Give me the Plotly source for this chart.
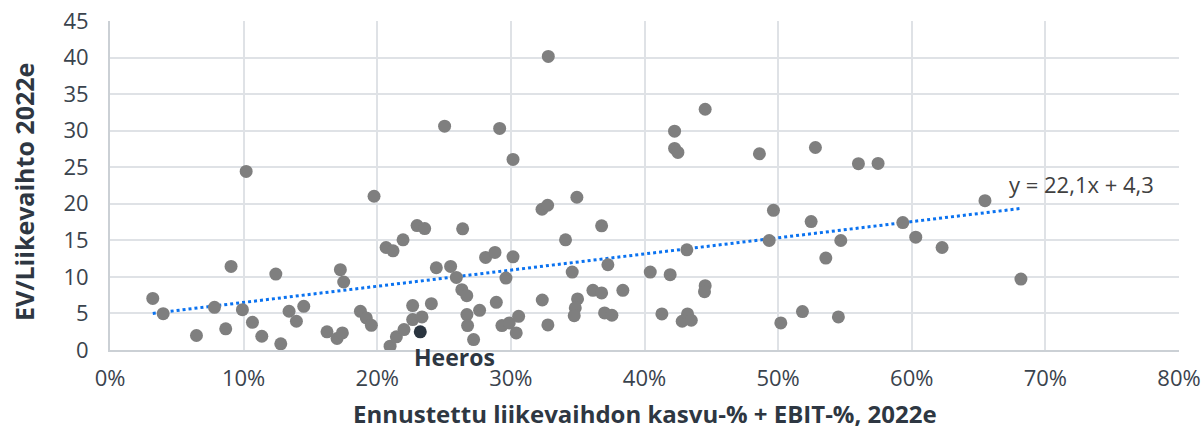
import plotly.graph_objects as go

# Peer companies: forecast revenue growth % + EBIT % (2022e) vs EV/Sales 2022e
growth_ebit = [
    3.2, 3.98, 6.47, 8.66, 7.82, 9.06, 10.19, 9.91, 10.66, 11.36,
    12.41, 12.78, 13.4, 13.95, 14.5, 16.24, 16.99, 17.39, 17.24, 17.49,
    18.74, 19.18, 19.56, 19.76, 20.96, 21.43, 22.0, 22.65, 22.65, 23.35,
    20.66, 21.18, 21.93, 22.98, 23.55, 24.42, 25.49, 25.92, 26.33, 26.7,
    26.39, 24.05, 25.04, 26.71, 26.76, 27.21, 27.66, 28.11, 28.81, 28.91,
    29.16, 29.63, 29.33, 29.88, 30.58, 30.4, 30.16, 30.16, 32.33, 32.75,
    32.35, 32.77, 32.8, 34.09, 34.59, 34.94, 34.99, 34.82, 34.74, 36.14,
    36.79, 36.79, 37.26, 37.01, 37.56, 38.38, 40.43, 41.92, 41.3, 42.25,
    42.25, 42.5, 43.17, 42.82, 43.22, 43.5, 44.54, 44.54, 44.49, 48.6,
    49.65, 49.33, 50.2, 51.82, 52.47, 52.79, 53.57, 54.69, 54.51, 56.01,
    57.48, 59.33, 60.3, 62.27, 65.48, 68.17,
]
ev_sales = [
    7.06, 4.97, 1.98, 2.89, 5.84, 11.43, 24.43, 5.52, 3.79, 1.88,
    10.39, 0.85, 5.3, 3.93, 5.98, 2.48, 1.57, 2.34, 10.98, 9.3,
    5.29, 4.39, 3.38, 21.03, 0.52, 1.8, 2.8, 6.07, 4.16, 4.53,
    14.02, 13.57, 15.07, 17.02, 16.61, 11.25, 11.43, 9.93, 8.25, 7.43,
    16.57, 6.34, 30.61, 4.84, 3.34, 1.43, 5.43, 12.66, 13.34, 6.52,
    30.3, 9.84, 3.34, 3.7, 4.61, 2.34, 26.07, 12.75, 19.25, 19.8,
    6.84, 3.43, 40.16, 15.07, 10.66, 20.89, 6.98, 5.75, 4.7, 8.16,
    7.8, 16.98, 11.66, 5.07, 4.75, 8.16, 10.66, 10.3, 4.93, 29.93,
    27.57, 27.02, 13.7, 3.93, 4.93, 4.07, 32.93, 8.8, 7.98, 26.84,
    19.11, 14.98, 3.7, 5.25, 17.57, 27.7, 12.57, 14.98, 4.53, 25.48,
    25.52, 17.43, 15.43, 14.02, 20.43, 9.7,
]
heeros_name = "Heeros"
heeros_x = [23.22]
heeros_y = [2.48]

trend_slope = 22.1
trend_intercept = 4.3
trend_label = "y = 22,1x + 4,3"

x_ticks = [0, 0.1, 0.2, 0.3, 0.4, 0.5, 0.6, 0.7, 0.8]
y_ticks = [0, 5, 10, 15, 20, 25, 30, 35, 40, 45]
x_title = "Ennustettu liikevaihdon kasvu-% + EBIT-%, 2022e"
y_title = "EV/Liikevaihto 2022e"

xs = [v / 100 for v in growth_ebit]
hx = [v / 100 for v in heeros_x]
tx = [min(xs), max(xs)]
ty = [trend_slope * v + trend_intercept for v in tx]

FONT = "Open Sans"
DARK = "#2e3742"

fig = go.Figure()
fig.add_trace(go.Scatter(
    x=tx, y=ty, mode="lines",
    line=dict(color="#0a72f0", width=3, dash="dot"),
    hoverinfo="skip", showlegend=False,
))
fig.add_trace(go.Scatter(
    x=xs, y=ev_sales, mode="markers",
    marker=dict(color="#7f7f7f", size=13, line=dict(width=0)),
    showlegend=False,
))
fig.add_trace(go.Scatter(
    x=hx, y=heeros_y, mode="markers",
    marker=dict(color="#2b3540", size=13, line=dict(width=0)),
    showlegend=False,
))

fig.add_annotation(
    x=hx[0], y=heeros_y[0], xref="x", yref="y",
    text="<b>" + heeros_name + "</b>", showarrow=False,
    xanchor="left", yanchor="middle", xshift=-8, yshift=-25,
    font=dict(family=FONT, size=23, color=DARK),
)
fig.add_annotation(
    x=tx[1], y=ty[1], xref="x", yref="y",
    text=trend_label, showarrow=False,
    xanchor="left", yanchor="middle", xshift=-14, yshift=24,
    font=dict(family=FONT, size=22, color="#404040"),
)
fig.add_annotation(
    x=0.5, y=0, xref="paper", yref="paper",
    text="<b>" + x_title + "</b>", showarrow=False,
    xanchor="center", yanchor="middle", yshift=-63.5,
    font=dict(family=FONT, size=24, color=DARK),
)
fig.add_annotation(
    x=0, y=0.48, xref="paper", yref="paper",
    text="<b>" + y_title + "</b>", showarrow=False, textangle=-90,
    xanchor="center", yanchor="middle", xshift=-86,
    font=dict(family=FONT, size=25, color=DARK),
)

fig.update_layout(
    width=1204, height=431,
    margin=dict(l=109.5, r=24.7, t=20.5, b=80.5),
    plot_bgcolor="white", paper_bgcolor="white",
    font=dict(family=FONT, size=22, color="#3a434d"),
    xaxis=dict(
        range=[0, 0.8], tickvals=x_ticks, tickformat=".0%",
        showgrid=True, gridcolor="#dfe2e6", gridwidth=1.5,
        showline=True, linecolor="#cbd0d5", linewidth=2,
        zeroline=False, ticks="", ticklabelstandoff=8,
        ticklabeloverflow="allow", automargin=False,
    ),
    yaxis=dict(
        range=[0, 45], tickvals=y_ticks, ticksuffix="x",
        showgrid=True, gridcolor="#dfe2e6", gridwidth=1.5,
        showline=True, linecolor="#cbd0d5", linewidth=2,
        zeroline=False, ticks="", ticklabelstandoff=15,
        ticklabeloverflow="allow", automargin=False,
    ),
)

fig.write_html(
    "out.html",
    config={"displayModeBar": False},
    post_script="document.body.style.margin='0';document.body.style.overflow='hidden';",
)
